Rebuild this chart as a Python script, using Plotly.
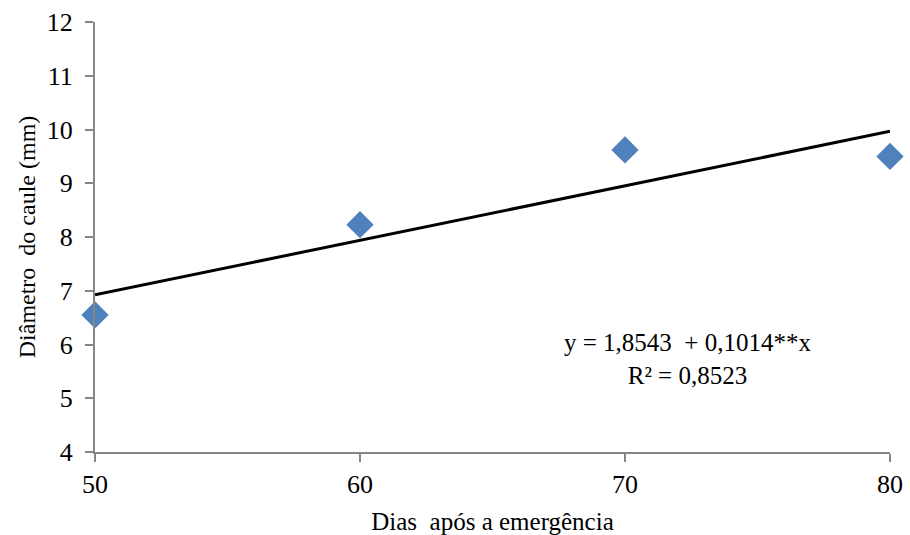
import plotly.graph_objects as go

dias = [50, 60, 70, 80]
diametro = [6.55, 8.23, 9.62, 9.50]
intercepto = 1.8543
inclinacao = 0.1014
x_ticks = [50, 60, 70, 80]
y_ticks = [4, 5, 6, 7, 8, 9, 10, 11, 12]

trend_x = [dias[0], dias[-1]]
trend_y = [intercepto + inclinacao * v for v in trend_x]

SERIF = "Liberation Serif, Times New Roman, serif"

fig = go.Figure()
fig.add_trace(go.Scatter(x=trend_x, y=trend_y, mode="lines",
                         line=dict(color="black", width=3), showlegend=False, cliponaxis=False))
fig.add_trace(go.Scatter(x=dias, y=diametro, mode="markers",
                         marker=dict(symbol="diamond", size=21, color="#4F81BD",
                                     line=dict(width=0)),
                         showlegend=False, cliponaxis=False))

fig.add_annotation(x=0.745, y=0.216, xref="paper", yref="paper",
                   xanchor="center", yanchor="middle",
                   text="y = 1,8543  + 0,1014**x<br>R² = 0,8523",
                   showarrow=False, align="center",
                   font=dict(family=SERIF, size=25, color="black"))

axis_font = dict(family=SERIF, size=26, color="black")
fig.update_layout(
    width=910, height=535,
    margin=dict(l=95, r=20, t=22, b=83),
    plot_bgcolor="white", paper_bgcolor="white",
    font=dict(family=SERIF, color="black"),
    xaxis=dict(range=[50, 80], tickvals=x_ticks, showgrid=False, zeroline=False,
               showline=True, linecolor="#868686", linewidth=2, automargin=False,
               ticks="outside", ticklen=8, tickcolor="#868686", tickwidth=2,
               tickfont=axis_font,
               title=dict(text="Dias  após a emergência", font=dict(family=SERIF, size=25), standoff=14)),
    yaxis=dict(range=[4, 12], tickvals=y_ticks, showgrid=False, zeroline=False,
               showline=True, linecolor="#868686", linewidth=2, automargin=False,
               ticks="outside", ticklen=8, tickcolor="#868686", tickwidth=2,
               ticklabelstandoff=7,
               tickfont=axis_font,
               title=dict(text="Diâmetro  do caule (mm)", font=dict(family=SERIF, size=24), standoff=4)),
)

fig.write_html("out.html")
